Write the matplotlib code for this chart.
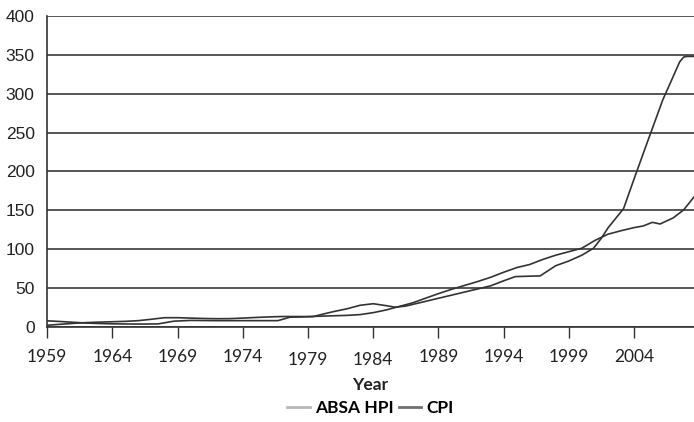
import matplotlib
matplotlib.use("Agg")
import matplotlib.pyplot as plt
from matplotlib.lines import Line2D

# ---------------------------------------------------------------------------
# Data (index values)
# ---------------------------------------------------------------------------
HPI_YEARS = [1959, 1960, 1961, 1962, 1963, 1964, 1965, 1966, 1967, 1967.5,
             1968.7, 1970, 1972, 1974, 1976.7, 1977.6, 1979.4, 1980, 1981,
             1982, 1983, 1984, 1985, 1985.7, 1986.5, 1987, 1988, 1989, 1990,
             1991, 1992, 1993, 1994, 1994.9, 1996, 1996.8, 1997.5, 1998,
             1999, 2000, 2000.9, 2001.5, 2002, 2003.2, 2004, 2004.85, 2005,
             2006.2, 2007, 2007.5, 2007.8, 2008, 2008.6]
HPI_VALUES = [7.5, 6.6, 5.6, 4.6, 4.0, 3.6, 3.4, 3.3, 3.4, 3.5,
              7.0, 8.0, 7.7, 7.7, 7.7, 12.1, 12.9, 15.5, 19.5,
              23.0, 27.5, 29.5, 27.0, 25.0, 26.5, 28.5, 32.5, 36.5, 40.5,
              44.5, 48.5, 52.5, 59.0, 64.4, 65.0, 65.3, 73.0, 78.5,
              84.5, 92.0, 101.0, 114.0, 127.0, 152.0, 190.0, 229.6, 236.5,
              291.8, 322.0, 341.0, 347.0, 348.0, 348.0]

CPI_YEARS = [1959, 1960, 1961, 1962, 1963, 1964, 1965, 1966, 1967, 1968,
             1969, 1970, 1971, 1972, 1973, 1974, 1975, 1976, 1977, 1978,
             1979, 1980, 1981, 1982, 1983, 1984, 1985, 1986, 1987, 1988,
             1989, 1990, 1991, 1992, 1993, 1994, 1995, 1996, 1997, 1998,
             1999, 2000, 2001, 2002, 2003, 2004, 2004.7, 2005.4, 2006,
             2007, 2007.8, 2008.6]
CPI_VALUES = [1.8, 3.0, 4.2, 5.2, 5.8, 6.3, 6.8, 7.7, 9.5, 11.5,
              11.5, 11.0, 10.5, 10.2, 10.3, 11.0, 11.8, 12.5, 13.0, 13.0,
              13.0, 13.5, 14.0, 14.5, 15.5, 18.0, 21.5, 26.0, 30.5, 36.5,
              42.5, 48.0, 53.0, 58.0, 63.5, 70.0, 76.0, 80.0, 86.5, 92.0,
              96.5, 101.0, 111.0, 119.0, 123.5, 127.5, 129.6, 134.3, 132.2,
              140.0, 150.2, 167.0]

X_TICKS = list(range(1959, 2005, 5))
Y_TICKS = list(range(0, 401, 50))

LINE_COLOR = "#333333"
GRID_COLOR = "#3a3a3a"
LABEL_FONT = ["Lato", "DejaVu Sans"]

fig = plt.figure(figsize=(6.94, 4.22), dpi=100)
ax_rect = [0.068, 0.226, 0.932, 0.736]
ax = fig.add_axes(ax_rect)

ax.plot(HPI_YEARS, HPI_VALUES, color=LINE_COLOR, lw=1.2)
ax.plot(CPI_YEARS, CPI_VALUES, color=LINE_COLOR, lw=1.2)

ax.set_xlim(1959, 2008.6)
ax.set_ylim(0, 400)
ax.set_xticks(X_TICKS)
ax.set_yticks(Y_TICKS)
ax.set_xticklabels([str(y) for y in X_TICKS], fontfamily=LABEL_FONT,
                   fontsize=12.5, color="#222222")
ax.set_yticklabels([str(v) for v in Y_TICKS], fontfamily="Liberation Sans",
                   fontsize=12.5, color="#222222")

ax.yaxis.grid(True, color=GRID_COLOR, lw=1.2)
ax.set_axisbelow(True)
ax.tick_params(axis="y", length=0, pad=9)
ax.tick_params(axis="x", length=8, width=1, color="#333333", pad=8)
# two of the year labels sit a little lower in the original
for i in (4, 5):
    ax.xaxis.get_major_ticks()[i].set_pad(10.5)

for side in ("top", "right"):
    ax.spines[side].set_visible(False)
for side in ("left", "bottom"):
    ax.spines[side].set_color("#333333")
    ax.spines[side].set_linewidth(1.2)

ax.set_xlabel("Year", fontfamily=LABEL_FONT, fontsize=12.5, fontweight="bold",
              color="#222222", labelpad=6)

handles = [
    Line2D([0], [0], color="#b8b8b8", lw=2, label="ABSA HPI"),
    Line2D([0], [0], color="#707070", lw=2, label="CPI"),
]
legend_x = ax_rect[0] + ax_rect[2] / 2
fig.legend(handles=handles, loc="center", bbox_to_anchor=(legend_x, 0.033), ncol=2,
           frameon=False, handlelength=1.3, handletextpad=0.3, columnspacing=0.3,
           prop={"family": LABEL_FONT, "size": 12.5, "weight": "bold"})

fig.savefig("out.png", dpi=100)
